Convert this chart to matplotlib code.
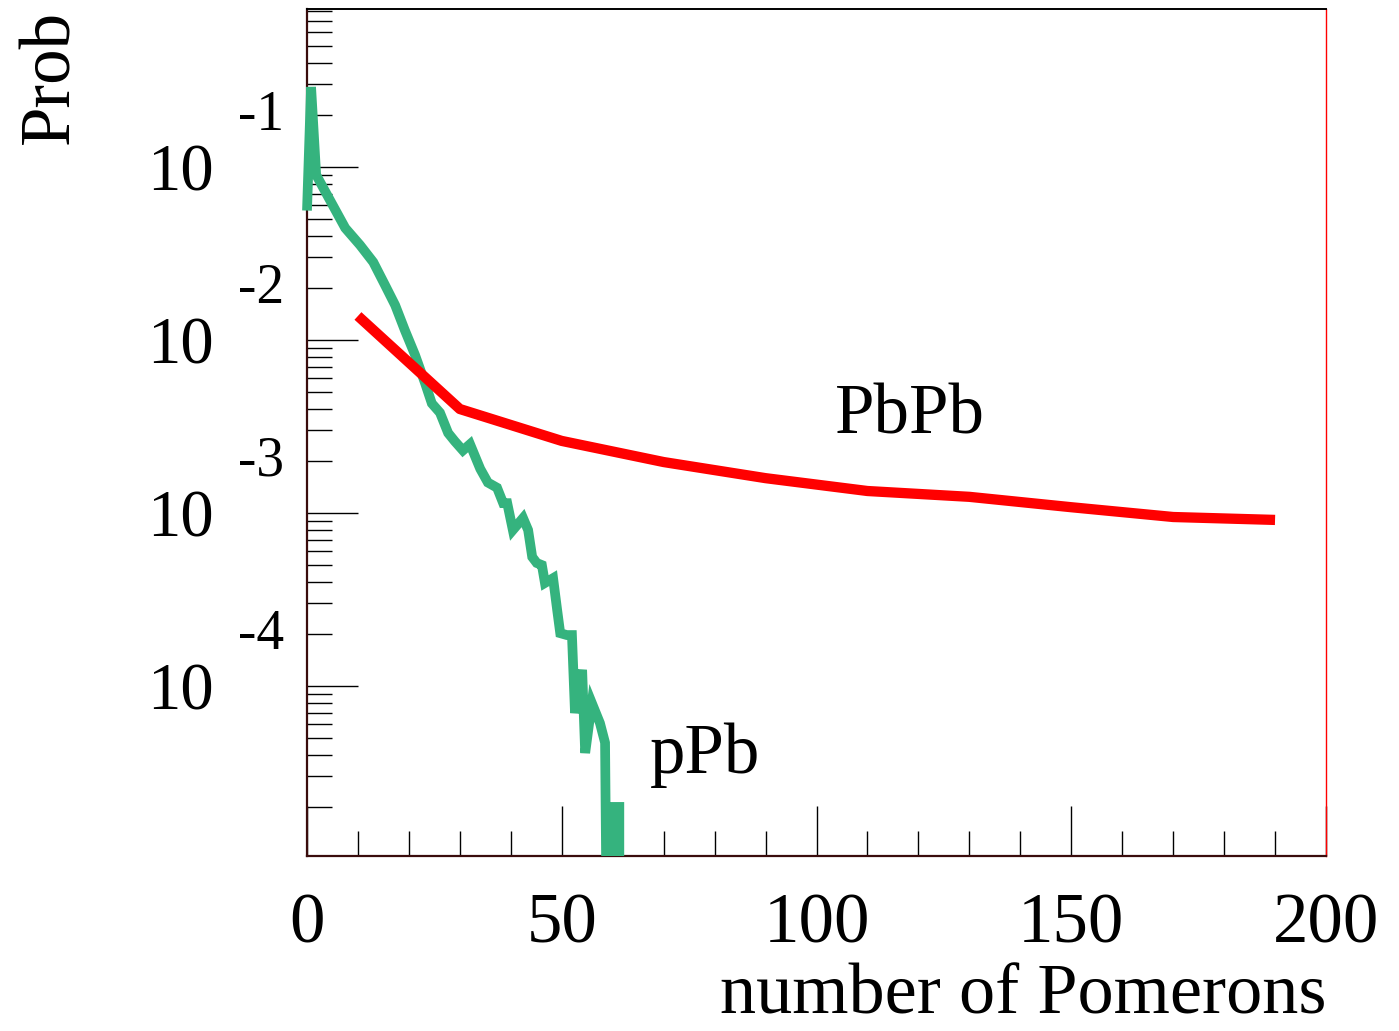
import matplotlib
matplotlib.use("Agg")
import matplotlib.pyplot as plt
import matplotlib.transforms as mtransforms
import numpy as np

plt.rcParams['font.family'] = ['Liberation Serif', 'DejaVu Serif']

# pPb distribution
ppb_x = [0, 0.8, 1.8, 4.5, 7.5, 10.4, 13, 15.3, 17.3, 19.2, 21.2, 23.2, 24.5, 26.1,
         27.7, 29, 30.6, 32, 34, 35.5, 37.3, 38.5, 39.3, 40.4, 42.4, 43.4, 44.2,
         45.1, 46.1, 46.7, 48.3, 49.1, 49.7, 51, 52, 52.6, 54, 54.6, 55.9, 57.5,
         58.5, 59.3, 60.0, 61.3, 61.3]
ppb_y = [5.6e-2, 0.29, 0.090, 0.0644, 0.0444, 0.0354, 0.0282, 0.0208, 0.0159, 0.0114,
         0.0082, 0.0056, 0.0043, 0.0038, 0.0029, 0.0026, 0.0023, 0.0025, 0.0018,
         0.0015, 0.0014, 0.00114, 0.00114, 7.97e-4, 9.35e-4, 7.97e-4, 5.57e-4,
         5.14e-4, 5.0e-4, 3.94e-4, 4.2e-4, 2.75e-4, 2.02e-4, 1.97e-4, 1.97e-4,
         6.98e-5, 1.24e-4, 4.1e-5, 7.98e-5, 6.1e-5, 4.7e-5, 1e-7, 2.0e-5, 2.0e-5, 1e-7]

# PbPb distribution
pbpb_x = [10, 30, 50, 70, 90, 110, 130, 150, 170, 190]
pbpb_y = [0.01377, 0.00399, 0.00261, 0.00197, 0.00159, 0.00134, 0.00124,
          0.00108, 0.000948, 0.000912]

xticks = [0, 50, 100, 150, 200]
xtick_labels = ['0', '50', '100', '150', '200']
ydecades = [-1, -2, -3, -4]

W, H = 1399, 1031
fig = plt.figure(figsize=(W / 100, H / 100), dpi=100)
ax = fig.add_axes([307 / W, 1 - 856 / H, (1326 - 307) / W, (856 - 9) / H])

ax.set_yscale('log')

gl, = ax.plot(ppb_x, ppb_y, color='#35b37e', lw=7.0, solid_joinstyle='miter',
              solid_capstyle='butt', zorder=3)
ax.plot(pbpb_x, pbpb_y, color='#ff0000', lw=7.4, solid_capstyle='butt',
        solid_joinstyle='round', zorder=4)

ax.set_xlim(0, 200)
ax.set_ylim(10 ** -4.9827, 10 ** -0.0867)

# let the pPb line reach a little left of the frame, but clip at the bottom
clipbox = mtransforms.TransformedBbox(mtransforms.Bbox([[-0.02, 0], [1, 1]]),
                                      ax.transAxes)
gl.set_clip_box(clipbox)
gl.set_clip_path(None)

# spines
for s in ['left', 'bottom']:
    ax.spines[s].set_color('#3a0c0c')
    ax.spines[s].set_linewidth(1.6)
ax.spines['top'].set_color('black')
ax.spines['top'].set_linewidth(1.4)
ax.spines['right'].set_color('#ff0000')
ax.spines['right'].set_linewidth(1.0)

# ticks
ax.set_xticks(xticks)
ax.set_xticks(np.arange(0, 201, 10), minor=True)
ax.set_xticklabels(xtick_labels)
ax.set_yticks([10.0 ** d for d in ydecades])
ax.set_yticklabels(['10'] * len(ydecades))
minor_y = [m * 10.0 ** d for d in range(-6, 1) for m in range(2, 10)]
ax.set_yticks(minor_y, minor=True)
ax.set_yticklabels([], minor=True)
ax.set_ylim(10 ** -4.9827, 10 ** -0.0867)

ax.tick_params(axis='both', which='major', direction='in', color='black', width=1.0,
               top=False, right=False)
ax.tick_params(axis='both', which='minor', direction='in', color='black', width=1.0,
               length=18, top=False, right=False)
ax.tick_params(axis='x', which='major', length=36, labelsize=51, pad=26)
ax.tick_params(axis='y', which='major', length=37, labelsize=48, pad=67)

# exponents of the y tick labels
trans = mtransforms.blended_transform_factory(ax.transAxes, ax.transData) + \
    mtransforms.ScaledTranslation(0, 51 / 100, fig.dpi_scale_trans)
for d in ydecades:
    ax.text(-0.0677, 10.0 ** d, '-%d' % (-d), transform=trans, fontsize=40,
            ha='left', va='center')

# curve labels
ax.text(103.6, 2.9e-3, 'PbPb', fontsize=51, ha='left', va='baseline')
ax.text(67.3, 3.14e-5, 'pPb', fontsize=51, ha='left', va='baseline')

# axis titles
fig.text(1326 / W, 1 - 1014 / H, 'number of Pomerons', fontsize=52,
         ha='right', va='baseline')
fig.text(18 / W, 1 - 10 / H, 'Prob', fontsize=51, rotation=90,
         ha='left', va='top')

fig.savefig('out.png', dpi=100)
